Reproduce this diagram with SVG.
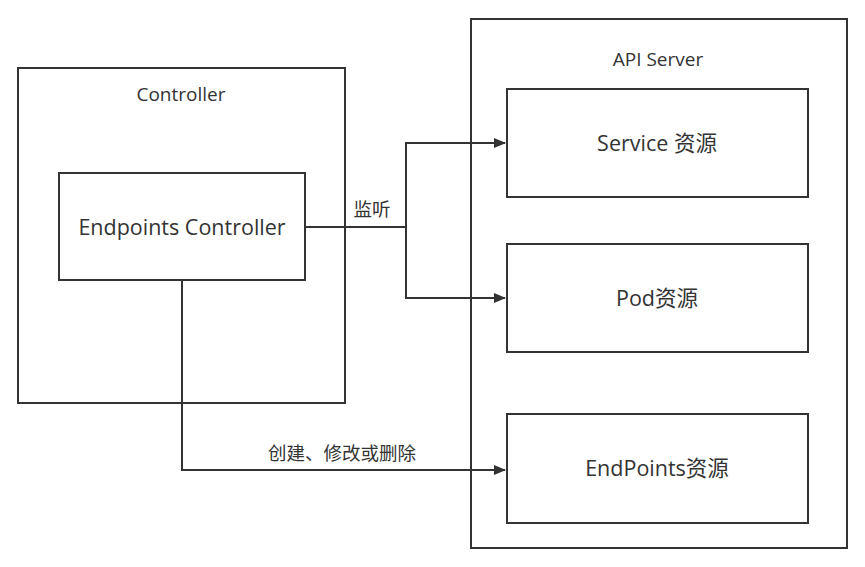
<svg xmlns="http://www.w3.org/2000/svg" width="865" height="567" viewBox="0 0 865 567">
<defs>
<style>
.box{fill:#fff;stroke:#333;stroke-width:2}
.t{font-family:"Open Sans","Noto Sans CJK SC",sans-serif;fill:#333;text-anchor:middle}
.big{font-size:21.5px}
.mid{font-size:19px}
.sm{font-size:18.5px}
.ln{fill:none;stroke:#333;stroke-width:2}
</style>
<marker id="ah" markerWidth="12" markerHeight="10" refX="11" refY="5" orient="auto" markerUnits="userSpaceOnUse">
<path d="M0,0 L12,5 L0,10 Z" fill="#333"/>
</marker>
</defs>
<rect width="865" height="567" fill="#fff"/>
<g id="controller">
<rect class="box" x="18" y="68" width="327" height="335"/>
<text class="t mid" x="181" y="101">Controller</text>
</g>
<g id="apiserver">
<rect class="box" x="471" y="19" width="376" height="529"/>
<text class="t mid" x="658" y="66">API Server</text>
</g>
<g id="endpoints-controller">
<rect class="box" x="59" y="173" width="246" height="107"/>
<text class="t big" x="182" y="235">Endpoints Controller</text>
</g>
<g id="service">
<rect class="box" x="507" y="89" width="301" height="108"/>
<text class="t big" x="657" y="151">Service 资源</text>
</g>
<g id="pod">
<rect class="box" x="507" y="244" width="301" height="108"/>
<text class="t big" x="657" y="306">Pod资源</text>
</g>
<g id="endpoints">
<rect class="box" x="507" y="414" width="301" height="109"/>
<text class="t big" x="657" y="476">EndPoints资源</text>
</g>
<g id="connectors">
<path class="ln" d="M305,227 H406 V143 H505" marker-end="url(#ah)"/>
<path class="ln" d="M406,227 V298 H505" marker-end="url(#ah)"/>
<path class="ln" d="M182,280 V470 H505" marker-end="url(#ah)"/>
<text class="t sm" x="372" y="216">监听</text>
<text class="t sm" x="342" y="460">创建、修改或删除</text>
</g>
</svg>
